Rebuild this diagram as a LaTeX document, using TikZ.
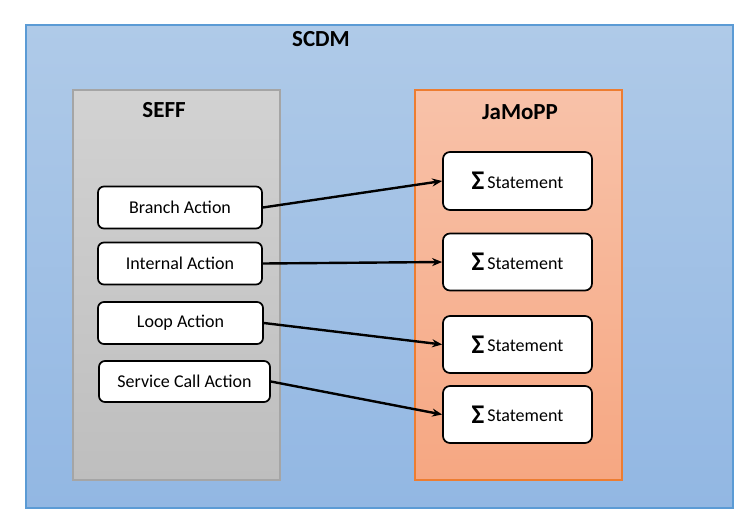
\documentclass[tikz,border=0pt]{standalone}
\usepackage{fontspec}
\setmainfont{Carlito}
\usetikzlibrary{arrows.meta}

\definecolor{scdmtop}{HTML}{AFCAE8}
\definecolor{scdmbot}{HTML}{92B7E3}
\definecolor{scdmline}{HTML}{5B9BD5}
\definecolor{sefftop}{HTML}{D2D2D2}
\definecolor{seffbot}{HTML}{BEBEBE}
\definecolor{seffline}{HTML}{A5A5A5}
\definecolor{jamopptop}{HTML}{F8C2A9}
\definecolor{jamoppbot}{HTML}{F6A782}
\definecolor{jamoppline}{HTML}{ED7D31}

\tikzset{
  actionbox/.style={draw=black, line width=1.7pt, fill=white, rounded corners=6pt,
    minimum width=164pt, minimum height=42pt, inner sep=0pt, font=\fontsize{18}{20}\selectfont},
  stmtbox/.style={draw=black, line width=1.7pt, fill=white, rounded corners=7pt,
    minimum width=149pt, minimum height=57pt, inner sep=0pt, font=\fontsize{18}{20}\selectfont},
  maplink/.style={line width=2.4pt, -{Stealth[length=10pt,width=8pt]}},
  title/.style={font=\bfseries\fontsize{23}{26}\selectfont}
}
\newcommand{\stmt}{{\bfseries\fontsize{27}{27}\selectfont\raisebox{-1.5pt}{Σ}}\,Statement}

\begin{document}
\begin{tikzpicture}[x=1pt, y=-1pt]
		\useasboundingbox (0,0) rectangle (752,525);
		
		% containers
		\shade[top color=scdmtop, bottom color=scdmbot] (26,25) rectangle (733,508);
		\draw[scdmline, line width=1.2pt] (26,25) rectangle (733,508);
		\shade[top color=sefftop, bottom color=seffbot] (73,90) rectangle (280,480);
		\draw[seffline, line width=1.2pt] (73,90) rectangle (280,480);
		\shade[top color=jamopptop, bottom color=jamoppbot] (415,90) rectangle (622,480);
		\draw[jamoppline, line width=1.2pt] (415,90) rectangle (622,480);
		
		\node[title] (scdm) at (321,39) {SCDM};
		\node[title] (seff) at (164,110) {SEFF};
		\node[title] (jamopp) at (520,112) {JaMoPP};
		
		% SEFF actions
		\node[actionbox] (branch) at (180,207.5) {Branch Action};
		\node[actionbox] (internal) at (180,263.5) {Internal Action};
		\node[actionbox, minimum width=165pt] (loop) at (180.5,323) {Loop Action};
		\node[actionbox, minimum width=171pt, minimum height=41pt] (service) at (184.5,381.5) {Service Call Action};
		
		% JaMoPP statements
		\node[stmtbox, minimum height=58pt] (stmtA) at (517.5,181) {\stmt};
		\node[stmtbox] (stmtB) at (517.5,262) {\stmt};
		\node[stmtbox] (stmtC) at (517.5,344.5) {\stmt};
		\node[stmtbox] (stmtD) at (517.5,414.5) {\stmt};
		
		% mappings
		\draw[maplink] (branch.east) -- (stmtA.west);
		\draw[maplink] (internal.east) -- (stmtB.west);
		\draw[maplink] (loop.east) -- (stmtC.west);
		\draw[maplink] (service.east) -- (stmtD.west);
	\end{tikzpicture}
\end{document}
